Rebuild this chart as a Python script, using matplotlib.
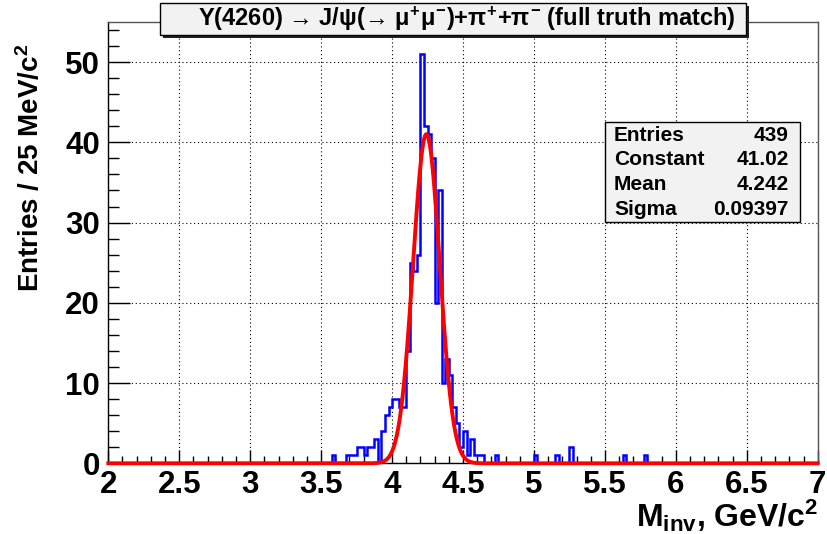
import numpy as np
import matplotlib
matplotlib.use("Agg")
import matplotlib.pyplot as plt
from matplotlib.patches import Rectangle
from matplotlib.ticker import MultipleLocator

# ---- data ----
bin_low_edges = [3.575, 3.675, 3.700, 3.725, 3.750, 3.775, 3.800, 3.825, 3.850, 3.875,
                 3.925, 3.950, 3.975, 4.000, 4.025, 4.050, 4.075, 4.100, 4.125, 4.150,
                 4.175, 4.200, 4.225, 4.250, 4.275, 4.300, 4.325, 4.350, 4.375, 4.400,
                 4.425, 4.450, 4.475, 4.500, 4.525, 4.550, 4.575, 4.600, 4.625, 4.725,
                 5.000, 5.150, 5.250, 5.625, 5.775]
bin_counts = [1, 1, 1, 1, 2, 2, 1, 2, 2, 3,
              4, 6, 7, 8, 8, 7, 7, 14, 25, 24,
              26, 51, 42, 41, 38, 20, 34, 10, 13, 11,
              7, 5, 2, 4, 1, 3, 1, 1, 1, 1,
              1, 1, 2, 1, 1]
x_min, x_max, bin_width = 2.0, 7.0, 0.025
fit_constant, fit_mean, fit_sigma = 41.02, 4.242, 0.09397
stats_labels = ["Entries", "Constant", "Mean", "Sigma"]
stats_values = ["439", "41.02", "4.242", "0.09397"]
x_tick_labels = ["2", "2.5", "3", "3.5", "4", "4.5", "5", "5.5", "6", "6.5", "7"]
title = "Y(4260) \u2192 J/\u03c8(\u2192 $\\mu^{+}\\mu^{-}$)+$\\pi^{+}$+$\\pi^{-}$ (full truth match)"

plt.rcParams['font.family'] = ['Liberation Sans', 'DejaVu Sans']
plt.rcParams['mathtext.fontset'] = 'custom'
plt.rcParams['mathtext.rm'] = 'Liberation Sans:bold'
plt.rcParams['mathtext.it'] = 'Liberation Sans:bold'
plt.rcParams['mathtext.bf'] = 'Liberation Sans:bold'

fig = plt.figure(figsize=(8.27, 5.34), dpi=100)
W, H = 827, 534
L, R, T, B = 108.3, 817.7, 22.0, 463.3
ax = fig.add_axes([L / W, 1 - B / H, (R - L) / W, (B - T) / H])

nb = int(round((x_max - x_min) / bin_width))
edges = x_min + bin_width * np.arange(nb + 1)
counts = np.zeros(nb)
for e, c in zip(bin_low_edges, bin_counts):
    counts[int(round((e - x_min) / bin_width))] = c

ax.grid(True, which='major', color='black', linestyle=(0, (1, 2.5)), linewidth=0.8)
ax.set_axisbelow(True)

ax.stairs(counts, edges, color='#0000ff', linewidth=1.8, zorder=3)
xs = np.linspace(x_min, x_max, 2000)
ax.plot(xs, fit_constant * np.exp(-0.5 * ((xs - fit_mean) / fit_sigma) ** 2),
        color='#ff0000', linewidth=2.8, zorder=4, clip_on=False)

ax.set_xlim(x_min, x_max)
ax.set_ylim(0, 55)
ax.xaxis.set_major_locator(MultipleLocator(0.5))
ax.xaxis.set_minor_locator(MultipleLocator(0.1))
ax.yaxis.set_major_locator(MultipleLocator(10))
ax.yaxis.set_minor_locator(MultipleLocator(2))
ax.tick_params(axis='x', which='major', direction='in', length=9.5, width=1, pad=5)
ax.tick_params(axis='x', which='minor', direction='in', length=5, width=1)
ax.tick_params(axis='y', which='major', direction='in', length=16, width=1, pad=6)
ax.tick_params(axis='y', which='minor', direction='in', length=8, width=1)
ax.tick_params(labelsize=22.5)
for lab in ax.get_yticklabels():
    lab.set_fontweight('bold')
ax.set_xticks(np.arange(2, 7.01, 0.5))
ax.set_xticklabels(x_tick_labels, fontsize=22.5, fontweight='bold')
for sp in ax.spines.values():
    sp.set_linewidth(1)
ax.spines['top'].set_color('#555555')
ax.spines['right'].set_color('#555555')

fig.text(31 / W, 1 - 168 / H, r"Entries / 25 MeV/c$^{2}$", fontsize=20, fontweight='bold',
         rotation=90, ha='center', va='center')
fig.text(818 / W, 1 - 516 / H, r"M$_{inv}$, GeV/c$^{2}$", fontsize=23, fontweight='bold',
         ha='right', va='center')

# title box with shadow
tx0, ty0, tx1, ty1 = 160, 3, 746, 35
fig.patches.append(Rectangle((tx0 / W + 3 / W, 1 - (ty1 + 3) / H), (tx1 - tx0) / W, (ty1 - ty0) / H,
                             transform=fig.transFigure, facecolor='#222222', edgecolor='none', zorder=5))
fig.patches.append(Rectangle((tx0 / W, 1 - ty1 / H), (tx1 - tx0) / W, (ty1 - ty0) / H,
                             transform=fig.transFigure, facecolor='#f2f2f2', edgecolor='black',
                             linewidth=1, zorder=6))
fig.text((197 + 737) / 2 / W, 1 - (ty0 + ty1) / 2 / H, title, fontsize=17, fontweight='bold',
         ha='center', va='center', zorder=7)

# stats box
sx0, sy0, sx1, sy1 = 605, 122, 800, 222
fig.patches.append(Rectangle((sx0 / W, 1 - sy1 / H), (sx1 - sx0) / W, (sy1 - sy0) / H,
                             transform=fig.transFigure, facecolor='#f2f2f2', edgecolor='black',
                             linewidth=1, zorder=6))
for i, (lab, val) in enumerate(zip(stats_labels, stats_values)):
    yc = 135 + i * 24.7
    fig.text(614 / W, 1 - yc / H, lab, fontsize=15, fontweight='bold', ha='left', va='center', zorder=7)
    fig.text(789 / W, 1 - yc / H, val, fontsize=15, fontweight='bold', ha='right', va='center', zorder=7)

fig.savefig("out.png", dpi=100)
